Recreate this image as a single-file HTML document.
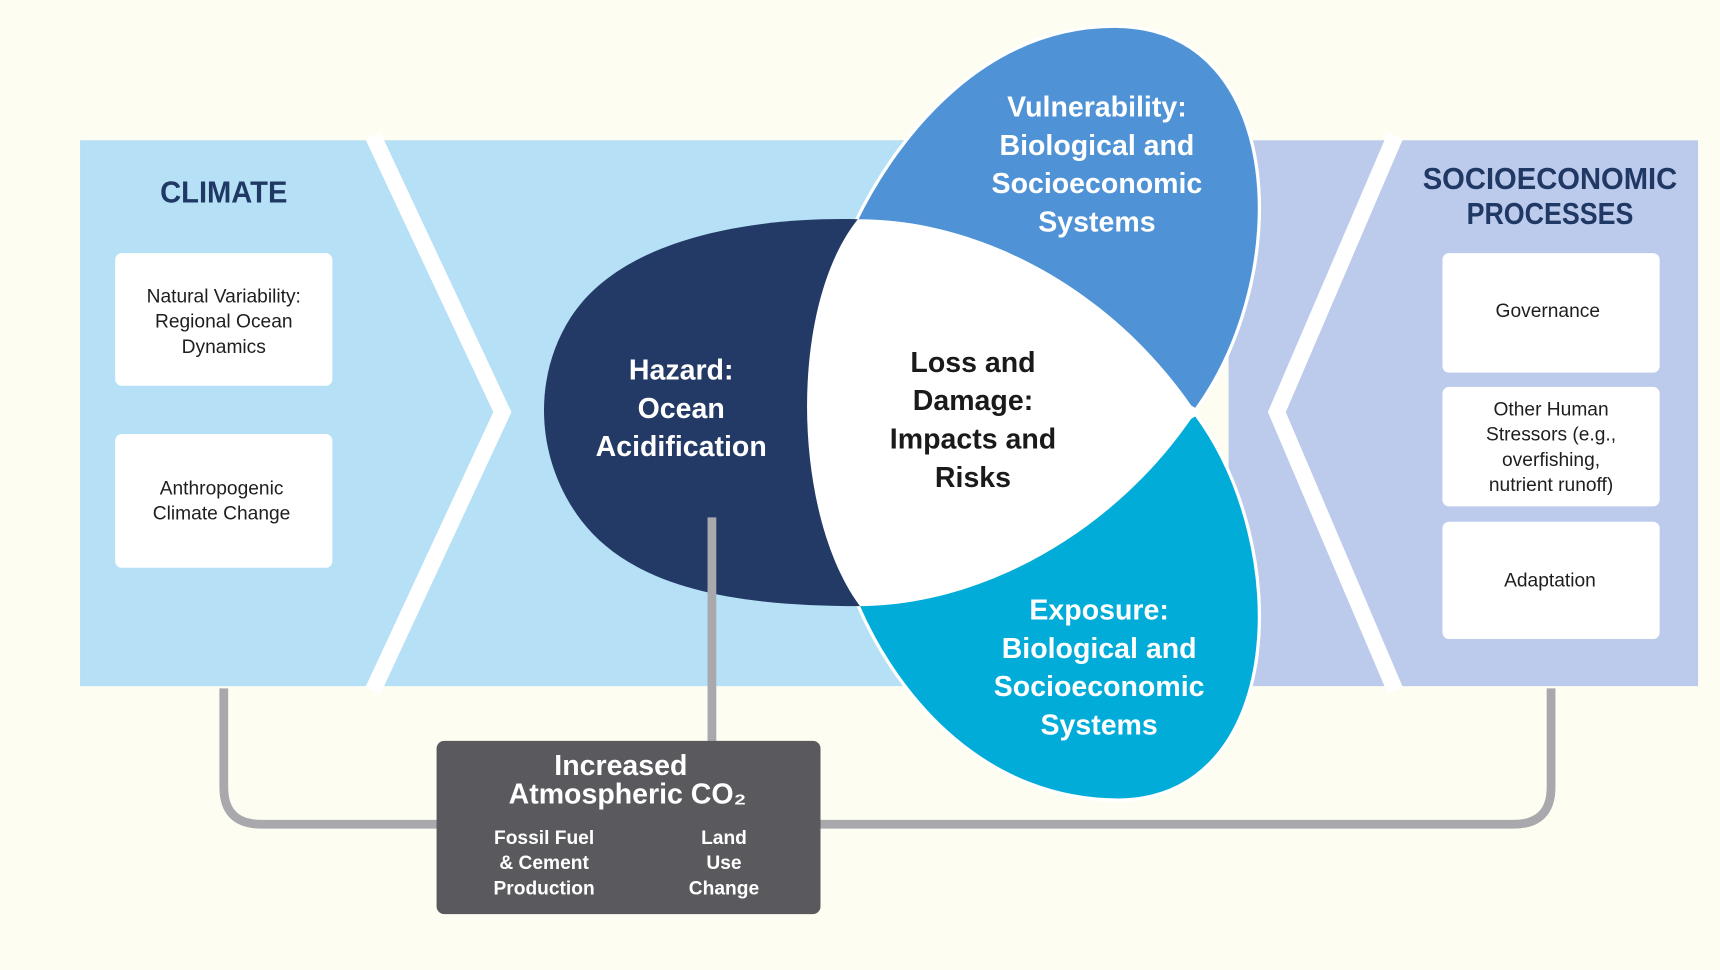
<!DOCTYPE html>
<html><head><meta charset="utf-8"><style>
html,body{margin:0;padding:0;background:#fdfdf1;}
svg{display:block;}
text{font-family:"Liberation Sans",sans-serif;}
</style></head><body>
<svg width="1720" height="970" viewBox="0 0 1568 885" preserveAspectRatio="none" xmlns="http://www.w3.org/2000/svg">
<rect x="0" y="0" width="1568" height="885" fill="#fdfdf1"/>
<!-- bands -->
<rect x="73" y="128" width="780" height="498" fill="#b5e0f6"/>
<rect x="1120" y="128" width="428" height="498" fill="#bccaec"/>
<!-- chevrons -->
<polyline points="340,124 458,376 340,630" fill="none" stroke="#fff" stroke-width="15"/>
<polyline points="1272,124 1164,376 1272,630" fill="none" stroke="#fff" stroke-width="15"/>
<!-- connectors -->
<path d="M204 628 V718 Q204 752 238 752 H400" fill="none" stroke="#a9a9ad" stroke-width="8"/>
<path d="M746 752 H1380 Q1414 752 1414 718 V628" fill="none" stroke="#a9a9ad" stroke-width="8"/>
<!-- petals -->
<path d="M1090 374 C1180 250 1172 28 1020 24 C900 22 820 120 780 202 Z" fill="#4f93d6" stroke="#fff" stroke-width="3"/>
<path d="M1090 378 C1180 500 1172 728 1020 730 C900 730 820 640 782 552 Z" fill="#02acd8" stroke="#fff" stroke-width="3"/>
<path d="M782 200 C700 198 570 212 520 290 C485 345 488 420 530 475 C580 540 680 553 784 553 Z" fill="#243a66"/>
<path d="M782 200 C900 200 1020 270 1090 376 C1020 482 900 552 784 553 C722 470 718 280 782 200 Z" fill="#fff"/>
<line x1="649" y1="472" x2="649" y2="678" stroke="#a9a9ad" stroke-width="8"/>
<!-- CO2 box -->
<rect x="398" y="676" width="350" height="158" rx="7" fill="#5a5a5e"/>
<g fill="#fff" font-weight="bold" text-anchor="middle" dominant-baseline="central">
<text x="566" y="699" font-size="26">Increased</text>
<text x="572" y="725" font-size="26">Atmospheric CO₂</text>
<g font-size="17.5">
<text x="496" y="765">Fossil Fuel</text><text x="496" y="788">&amp; Cement</text><text x="496" y="811">Production</text>
<text x="660" y="765">Land</text><text x="660" y="788">Use</text><text x="660" y="811">Change</text>
</g>
<g font-size="26">
<text x="1000" y="98">Vulnerability:</text><text x="1000" y="133">Biological and</text><text x="1000" y="168">Socioeconomic</text><text x="1000" y="203">Systems</text>
<text x="621" y="338">Hazard:</text><text x="621" y="373">Ocean</text><text x="621" y="408">Acidification</text>
<text x="1002" y="557">Exposure:</text><text x="1002" y="592">Biological and</text><text x="1002" y="627">Socioeconomic</text><text x="1002" y="662">Systems</text>
</g>
<g font-size="26" fill="#1a1a1a">
<text x="887" y="331">Loss and</text><text x="887" y="366">Damage:</text><text x="887" y="401">Impacts and</text><text x="887" y="436">Risks</text>
</g>
<g fill="#1f3864" font-size="28">
<text x="204" y="175" textLength="116" lengthAdjust="spacingAndGlyphs">CLIMATE</text>
<text x="1413" y="163" textLength="232" lengthAdjust="spacingAndGlyphs">SOCIOECONOMIC</text>
<text x="1413" y="195" textLength="152" lengthAdjust="spacingAndGlyphs">PROCESSES</text>
</g>
</g>
<!-- white boxes -->
<g fill="#fff">
<rect x="105" y="231" width="198" height="121" rx="6"/>
<rect x="105" y="396" width="198" height="122" rx="6"/>
<rect x="1315" y="231" width="198" height="109" rx="6"/>
<rect x="1315" y="353" width="198" height="109" rx="6"/>
<rect x="1315" y="476" width="198" height="107" rx="6"/>
</g>
<g fill="#1e1e1e" font-size="17.5" text-anchor="middle" dominant-baseline="central">
<text x="204" y="271">Natural Variability:</text><text x="204" y="294">Regional Ocean</text><text x="204" y="317">Dynamics</text>
<text x="202" y="446">Anthropogenic</text><text x="202" y="469">Climate Change</text>
<text x="1411" y="284">Governance</text>
<text x="1414" y="374">Other Human</text><text x="1414" y="397">Stressors (e.g.,</text><text x="1414" y="420">overfishing,</text><text x="1414" y="443">nutrient runoff)</text>
<text x="1413" y="530">Adaptation</text>
</g>
</svg>
</body></html>
